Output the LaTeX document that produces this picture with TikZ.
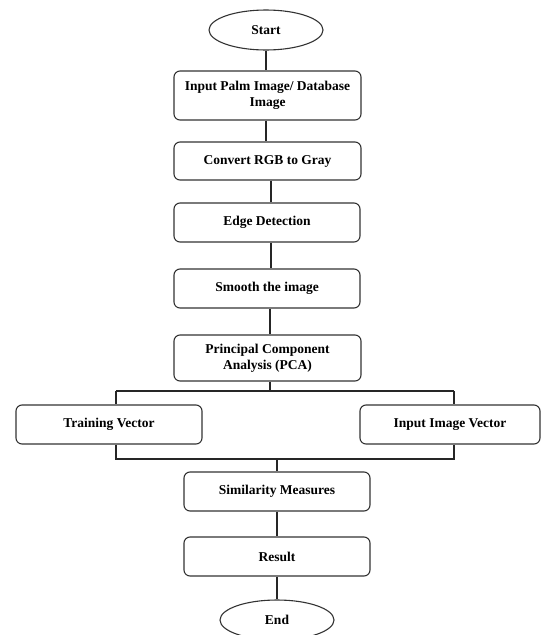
\documentclass[tikz,border=0pt]{standalone}
\usepackage{fontspec}
\setmainfont{Liberation Serif}
\usetikzlibrary{shapes.geometric}
\begin{document}
\begin{tikzpicture}[x=1pt,y=-1pt,
  every node/.style={font=\fontsize{13.5}{16}\selectfont\bfseries, text=black, align=center, inner sep=0pt},
  box/.style={draw=black!80, line width=1.1pt, rounded corners=6pt, fill=white},
  term/.style={draw=black!80, line width=1.1pt, ellipse, fill=white},
  link/.style={draw=black!85, line width=1.1pt}]
\useasboundingbox (0,0) rectangle (541,635);
\clip (0,0) rectangle (541,635);
% terminals
\node[term, minimum width=114pt, minimum height=40pt] (start) at (266,30) {Start};
\node[term, minimum width=114pt, minimum height=40pt] (end) at (277,620) {End};
% boxes
\node[box, minimum width=187pt, minimum height=49pt] (input) at (267.5,95.5) {Input Palm Image/ Database\\Image};
\node[box, minimum width=187pt, minimum height=38pt] (conv) at (267.5,161) {Convert RGB to Gray};
\node[box, minimum width=186pt, minimum height=39pt] (edge) at (267,222.5) {Edge Detection};
\node[box, minimum width=186pt, minimum height=39pt] (smooth) at (267,288.5) {Smooth the image};
\node[box, minimum width=187pt, minimum height=46pt] (pca) at (267.5,358) {Principal Component\\Analysis (PCA)};
\node[box, minimum width=186pt, minimum height=39pt] (train) at (109,424.5) {Training Vector};
\node[box, minimum width=180pt, minimum height=39pt] (ivec) at (450,424.5) {Input Image Vector};
\node[box, minimum width=186pt, minimum height=39pt] (sim) at (277,491.5) {Similarity Measures};
\node[box, minimum width=186pt, minimum height=39pt] (res) at (277,556.5) {Result};
% connectors
\coordinate (bl) at (116,391);
\coordinate (br) at (454,391);
\coordinate (ml) at (116,459);
\coordinate (mr) at (454,459);
\draw[link] (start.south) -- (input.north -| start.south);
\draw[link] (input.south -| start.south) -- (conv.north -| start.south);
\draw[link] (conv.south -| 271,0) -- (edge.north -| 271,0);
\draw[link] (edge.south -| 271,0) -- (smooth.north -| 271,0);
\draw[link] (smooth.south -| 270,0) -- (pca.north -| 270,0);
\draw[link] (pca.south -| 270,0) -- (bl -| 270,0);
\draw[link] (bl) -- (br);
\draw[link] (bl) -- (train.north -| bl);
\draw[link] (br) -- (ivec.north -| br);
\draw[link] (train.south -| ml) -- (ml) -- (mr) -- (ivec.south -| mr);
\draw[link] (ml -| sim.north) -- (sim.north);
\draw[link] (sim.south) -- (res.north);
\draw[link] (res.south) -- (end.north);
\end{tikzpicture}
\end{document}
